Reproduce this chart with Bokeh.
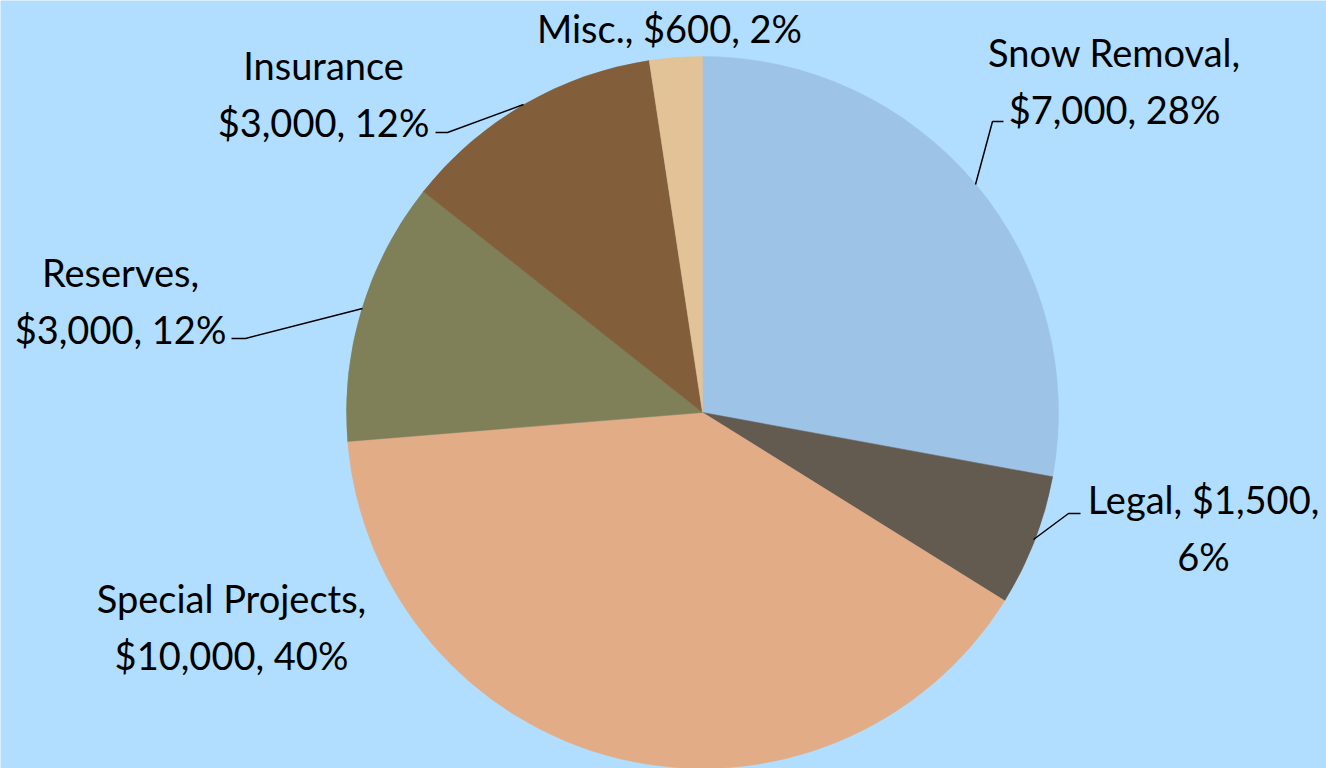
import numpy as np
from bokeh.plotting import figure
from bokeh.models import Range1d, ColumnDataSource
from bokeh.core.properties import value
from bokeh.embed import file_html
from bokeh.resources import INLINE

# ---- data ----
categories = ["Snow Removal", "Legal", "Special Projects", "Reserves", "Insurance", "Misc."]
amounts = [7000, 1500, 10000, 3000, 3000, 600]
percents = [28, 6, 40, 12, 12, 2]
labels = [
    "Snow Removal,\n$7,000, 28%",
    "Legal, $1,500,\n6%",
    "Special Projects,\n$10,000, 40%",
    "Reserves,\n$3,000, 12%",
    "Insurance\n$3,000, 12%",
    "Misc., $600, 2%",
]
colors = ["#9DC3E6", "#635B50", "#E2AC87", "#7F7F58", "#825E3A", "#E2C297"]

# ---- layout (pixel-like coordinates; y up) ----
W, H = 1326, 768
BG = "#B1DEFE"
cx, cy, R = 702, 768 - 412, 356

label_x = [1114, 1203, 231, 120, 323, 669]
label_y = [768 - 80, 768 - 527, 768 - 626, 768 - 300, 768 - 93, 768 - 27]

leaders_x = [[1003, 992, 975], [1080, 1068, 1033], [], [231, 245, 362], [435, 447, 523], []]
leaders_y = [[121, 121, 184], [513, 513, 539], [], [338, 338, 308], [132, 132, 104], []]

vals = np.array(amounts, dtype=float)
frac = vals / vals.sum()
cum = np.concatenate([[0.0], np.cumsum(frac)])
start = np.pi / 2 - 2 * np.pi * cum[:-1]
end = np.pi / 2 - 2 * np.pi * cum[1:]

src = ColumnDataSource(dict(cat=categories, start=start, end=end, color=colors))

p = figure(width=W, height=H, output_backend="svg", toolbar_location=None,
           x_range=Range1d(0, W), y_range=Range1d(0, H),
           min_border=0, background_fill_color=BG, border_fill_color=BG)
p.axis.visible = False
p.grid.visible = False
p.outline_line_color = None

p.wedge(x=cx, y=cy, radius=R, start_angle="start", end_angle="end",
        direction="clock", fill_color="color", line_color="color", line_width=0.5,
        source=src)

for lx, ly in zip(leaders_x, leaders_y):
    if lx:
        p.line(lx, [768 - v for v in ly], line_color="black", line_width=1.5)

p.text(x=label_x, y=label_y, text=labels, text_align="center", text_baseline="middle",
       text_font=value("Lato"), text_font_size="38px", text_color="black",
       text_line_height=1.25)

open("out.html", "w").write(file_html(p, INLINE))
